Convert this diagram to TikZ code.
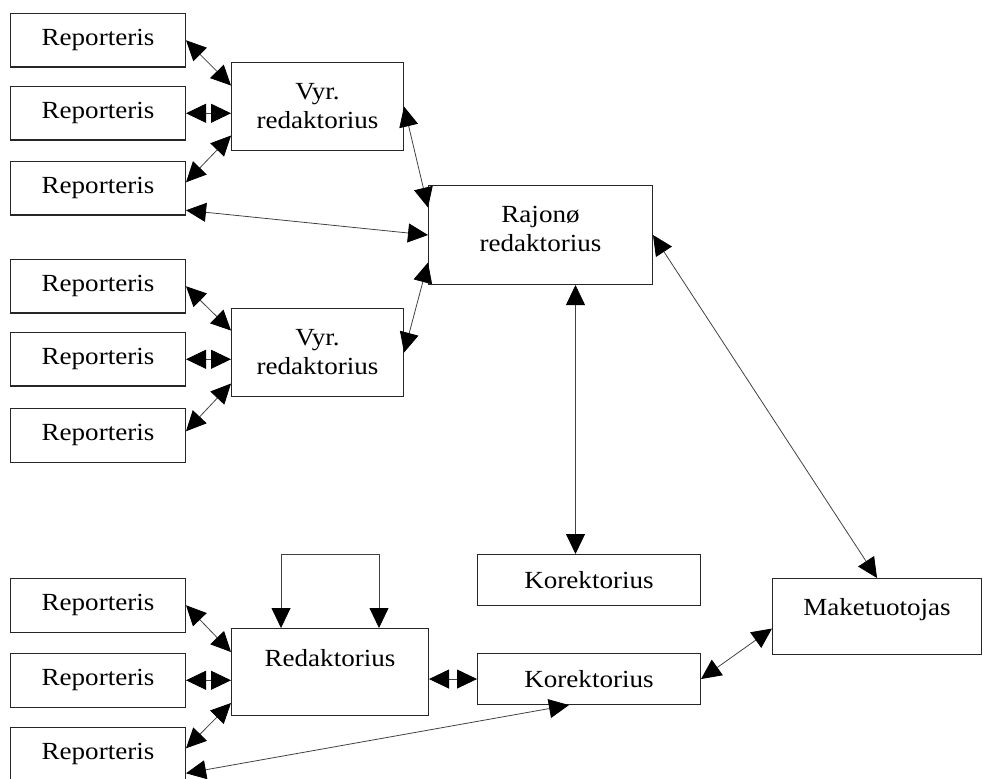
\documentclass[tikz,border=0pt]{standalone}
\usepackage{fontspec}
\setmainfont[FakeStretch=1.1]{Liberation Serif}
\usetikzlibrary{arrows.meta}

\tikzset{
  box/.style={draw=black!85, line width=0.6pt, anchor=north west, inner sep=0pt,
    align=center, font=\fontsize{14}{16.5}\selectfont},
  repbox/.style={box, minimum width=3.5cm, minimum height=1.07cm},
  link/.style={<->, line width=0.45pt, draw=black!75,
    >={Triangle[length=0.4cm, width=0.38cm, color=black]}}
}

\begin{document}
\begin{tikzpicture}[x=0.02cm, y=-0.02cm]
\useasboundingbox (0, 0) rectangle (983, 778);

\node[repbox] (rep1) at (10, 13) {Reporteris};
\node[repbox] (rep2) at (10, 86) {Reporteris};
\node[repbox] (rep3) at (10, 161) {Reporteris};
\node[repbox] (rep4) at (10, 259) {Reporteris};
\node[repbox] (rep5) at (10, 332) {Reporteris};
\node[repbox] (rep6) at (10, 408) {Reporteris};
\node[repbox] (rep7) at (10, 578) {Reporteris};
\node[repbox] (rep8) at (10, 653) {Reporteris};
\node[repbox] (rep9) at (10, 727) {Reporteris};

\node[box, minimum width=3.44cm, minimum height=1.76cm] (vyr1) at (231, 62) {Vyr.\\ redaktorius};
\node[box, minimum width=3.44cm, minimum height=1.76cm] (vyr2) at (231, 308) {Vyr.\\ redaktorius};
\node[box, minimum width=4.48cm, minimum height=1.98cm] (raj) at (428, 185) {Rajonø\\ redaktorius\\[-9.5pt] \mbox{}};
\node[box, minimum width=4.46cm, minimum height=1.02cm] (kor1) at (477, 554) {Korektorius};
\node[box, minimum width=3.94cm, minimum height=1.74cm] (red) at (231, 628) {Redaktorius\\ \mbox{}};
\node[box, minimum width=4.46cm, minimum height=1.02cm] (kor2) at (477, 653) {Korektorius};
\node[box, minimum width=4.18cm, minimum height=1.52cm] (mak) at (772, 578) {Maketuotojas\\[-6pt] \mbox{}};

\draw[link] (rep1.east) -- ([yshift=0.42cm]vyr1.west);
\draw[link] (rep2.east) -- (rep2.east -| vyr1.west);
\draw[link] ([yshift=0.12cm]rep3.east) -- ([yshift=-0.58cm]vyr1.west);
\draw[link] ([yshift=-0.44cm]rep3.east) -- (raj.west);
\draw[link] (vyr1.east) -- ([yshift=0.55cm]raj.west);

\draw[link] (rep4.east) -- ([yshift=0.44cm]vyr2.west);
\draw[link] (rep5.east) -- (rep5.east -| vyr2.west);
\draw[link] ([yshift=0.08cm]rep6.east) -- ([yshift=-0.62cm]vyr2.west);
\draw[link] (vyr2.east) -- ([yshift=-0.55cm]raj.west);

\draw[link] ([xshift=0.7cm]raj.south) -- ([xshift=0.7cm]raj.south |- kor1.north);
\draw[link] (raj.east) -- (mak.north);

\draw[link] ([xshift=-0.98cm]red.north) -- ++(0, -74) -| ([xshift=0.98cm]red.north);
\draw[link] (rep7.east) -- ([yshift=0.4cm]red.west);
\draw[link] (rep8.east) -- (rep8.east -| red.west);
\draw[link] ([yshift=0.12cm]rep9.east) -- ([yshift=-0.62cm]red.west);
\draw[link] (kor2.west -| red.east) -- (kor2.west);
\draw[link] ([yshift=-0.38cm]rep9.east) -- ([xshift=-0.4cm]kor2.south);
\draw[link] (kor2.east) -- ([yshift=-0.24cm]mak.west);

\end{tikzpicture}
\end{document}
